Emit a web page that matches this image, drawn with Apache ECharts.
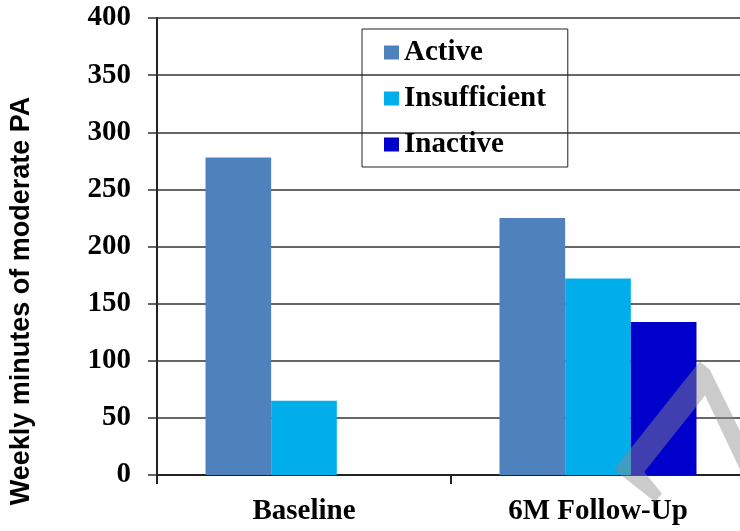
<!DOCTYPE html>
<html>
<head>
<meta charset="utf-8">
<script src="https://cdn.jsdelivr.net/npm/echarts@6/dist/echarts.min.js"></script>
<style>
	html, body { margin: 0; padding: 0; background: #fff; }
	#chart { width: 740px; height: 531px; }
</style>
</head>
<body>
<div id="chart"></div>
<script>
	// chart data
	var categories = ['Baseline', '6M Follow-Up']
	var activeData = [278, 225]
	var insufficientData = [65, 172]
	var inactiveData = [0, 134]
	var seriesNames = ['Active', 'Insufficient', 'Inactive']
	var yTicks = { min: 0, max: 400, interval: 50 }

	var serif = '"Liberation Serif", "Times New Roman", serif'
	var chartInstance = echarts.init(document.getElementById('chart'), null, { renderer: 'canvas' })

	var option = {
		backgroundColor: '#fff',
		animation: false,
		grid: { left: 157, width: 588, top: 18, height: 457, outerBoundsMode: 'none' },
		legend: {
			orient: 'vertical',
			left: 362,
			top: 29,
			padding: [9, 22, 8, 22],
			itemGap: 17,
			itemWidth: 15,
			itemHeight: 14,
			icon: 'rect',
			borderColor: '#222',
			borderWidth: 1,
			textStyle: { fontFamily: serif, fontWeight: 'bold', fontSize: 29, color: '#000' },
			data: seriesNames
		},
		xAxis: {
			type: 'category',
			data: categories,
			axisLine: { lineStyle: { color: '#222', width: 2 } },
			axisTick: { show: true, length: 9, lineStyle: { color: '#222', width: 2 } },
			axisLabel: { fontFamily: serif, fontWeight: 'bold', fontSize: 29, color: '#000', margin: 22 }
		},
		yAxis: {
			type: 'value',
			min: yTicks.min,
			max: yTicks.max,
			interval: yTicks.interval,
			axisLine: { show: true, lineStyle: { color: '#222', width: 2 } },
			axisTick: { show: true, length: 9, lineStyle: { color: '#333', width: 1.5 } },
			splitLine: { lineStyle: { color: '#333', width: 1.5 } },
			axisLabel: { fontFamily: serif, fontWeight: 'bold', fontSize: 29, color: '#000', margin: 26 }
		},
		graphic: [
			{
				type: 'text',
				x: 22, y: 301,
				rotation: Math.PI / 2,
				style: {
					text: 'Weekly minutes of moderate PA',
					font: 'bold 27px "Liberation Sans", Arial, sans-serif',
					fill: '#000',
					align: 'center',
					verticalAlign: 'middle'
				}
			},
			{
				// faint watermark in the lower right corner
				type: 'text',
				x: 677, y: 331,
				rotation: 0.9,
				z: 100,
				style: {
					text: '7',
					font: '340px "Liberation Serif", serif',
					fill: 'rgba(140,140,140,0.45)',
					align: 'right',
					verticalAlign: 'top'
				}
			}
		],
		series: [
			{
				name: seriesNames[0], type: 'bar', data: activeData,
				barGap: '0%', barCategoryGap: '33%',
				itemStyle: { color: '#4F81BD' }
			},
			{
				name: seriesNames[1], type: 'bar', data: insufficientData,
				itemStyle: { color: '#00AEEB' }
			},
			{
				name: seriesNames[2], type: 'bar', data: inactiveData,
				itemStyle: { color: '#0000CD' }
			}
		]
	}
	chartInstance.setOption(option)
</script>
</body>
</html>
